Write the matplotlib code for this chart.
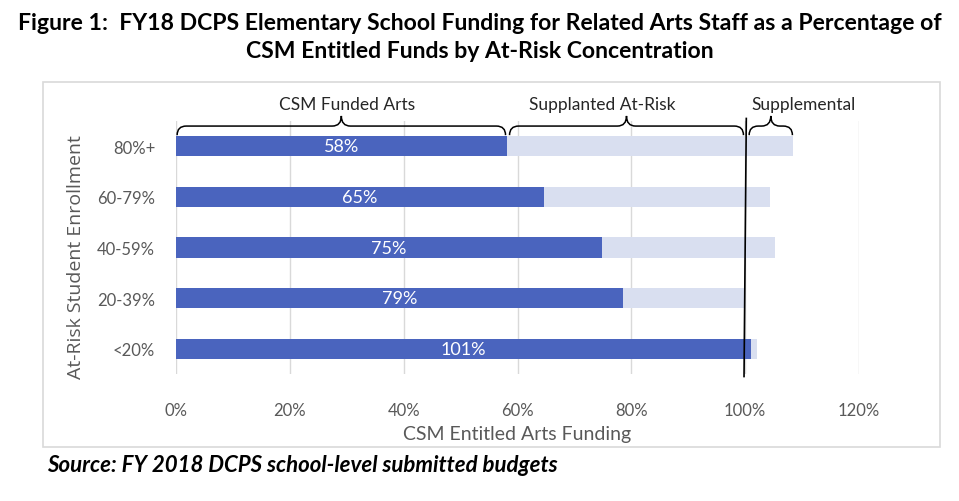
import matplotlib
matplotlib.use("Agg")
import matplotlib.pyplot as plt
from matplotlib.path import Path
from matplotlib.patches import PathPatch, Rectangle

categories = ["80%+", "60-79%", "40-59%", "20-39%", "<20%"]
csm_funded = [58.2, 64.6, 74.9, 78.6, 101.0]
total_funding = [108.4, 104.4, 105.3, 99.8, 102.0]
supplanted = [t - c for t, c in zip(total_funding, csm_funded)]
xticks = [0, 20, 40, 60, 80, 100, 120]
brace_labels = ["CSM Funded Arts", "Supplanted At-Risk", "Supplemental"]
brace_starts = [0.2, 58.6, 100.7]
brace_ends = [57.9, 99.7, 108.3]
brace_label_x = [30.0, 74.9, 110.2]

FONT = ["Lato", "DejaVu Sans"]
plt.rcParams['font.family'] = FONT

fig = plt.figure(figsize=(9.59, 5.02), dpi=100)
ax = fig.add_axes([176/959, 1-375/502, (859-176)/959, (375-122)/502])

dark = "#4A64BE"
light = "#D9DFF0"
ypos = list(range(len(categories)))
ax.barh(ypos, csm_funded, height=0.4, color=dark, zorder=3)
ax.barh(ypos, supplanted, left=csm_funded, height=0.4, color=light, zorder=3)
for y, v in zip(ypos, csm_funded):
    ax.text(v/2, y, f"{round(v)}%", ha="center", va="center", color="white",
            fontsize=13, zorder=5)

ax.set_xlim(0, 120)
ax.set_ylim(4.5, -0.5)
ax.set_xticks(xticks)
ax.set_xticklabels([f"{t}%" for t in xticks], color="#595959", fontsize=12)
ax.set_yticks(ypos)
ax.set_yticklabels(categories, color="#595959", fontsize=12)
ax.tick_params(axis='x', length=0, pad=20)
ax.tick_params(axis='y', length=0, pad=15)
ax.grid(axis='x', color="#D9D9D9", lw=1, zorder=0)
for s in ax.spines.values():
    s.set_visible(False)

ax.set_xlabel("CSM Entitled Arts Funding", color="#595959", fontsize=14, labelpad=5)
ax.set_ylabel("At-Risk Student Enrollment", color="#595959", fontsize=14,
              family=["Open Sans", "DejaVu Sans"])
ax.yaxis.set_label_coords(-0.133, 0.466)

# vertical 100% line
ax.plot([100.2, 99.8], [-0.55, 4.55], color="black", lw=1.2, zorder=6, clip_on=False)

# braces
def brace(x0, x1, yb=-0.22, yh=-0.40, yt=-0.60, r=1.6):
    xm = (x0 + x1) / 2
    verts = [(x0, yb), (x0, yh), (x0 + r, yh),
             (xm - r, yh), (xm, yh), (xm, yt),
             (xm, yh), (xm + r, yh),
             (x1 - r, yh), (x1, yh), (x1, yb)]
    codes = [Path.MOVETO, Path.CURVE3, Path.CURVE3,
             Path.LINETO, Path.CURVE3, Path.CURVE3,
             Path.CURVE3, Path.CURVE3,
             Path.LINETO, Path.CURVE3, Path.CURVE3]
    p = PathPatch(Path(verts, codes), fill=False, lw=1.1, color="black",
                  clip_on=False, zorder=6)
    ax.add_patch(p)

for x0, x1 in zip(brace_starts, brace_ends):
    brace(x0, x1)
for lab, x in zip(brace_labels, brace_label_x):
    ax.text(x, -0.84, lab, ha="center", va="center", fontsize=12.5,
            color="#262626", clip_on=False)

# chart border
fig.patches.append(Rectangle((43/959, 1-448/502), (940-43)/959, (448-83)/502,
                             transform=fig.transFigure, fill=False,
                             edgecolor="#D9D9D9", lw=1.2))

fig.text(0.5, 1-23/502, "Figure 1:  FY18 DCPS Elementary School Funding for Related Arts Staff as a Percentage of",
         ha="center", va="center", fontsize=16.6, fontweight="bold", color="black")
fig.text(0.5, 1-51/502, "CSM Entitled Funds by At-Risk Concentration",
         ha="center", va="center", fontsize=16.6, fontweight="bold", color="black")
fig.text(47/959, 1-466/502, "Source: FY 2018 DCPS school-level submitted budgets",
         ha="left", va="center", fontsize=16, fontweight="bold", style="italic",
         color="black")

fig.savefig("out.png", dpi=100, facecolor="white")
